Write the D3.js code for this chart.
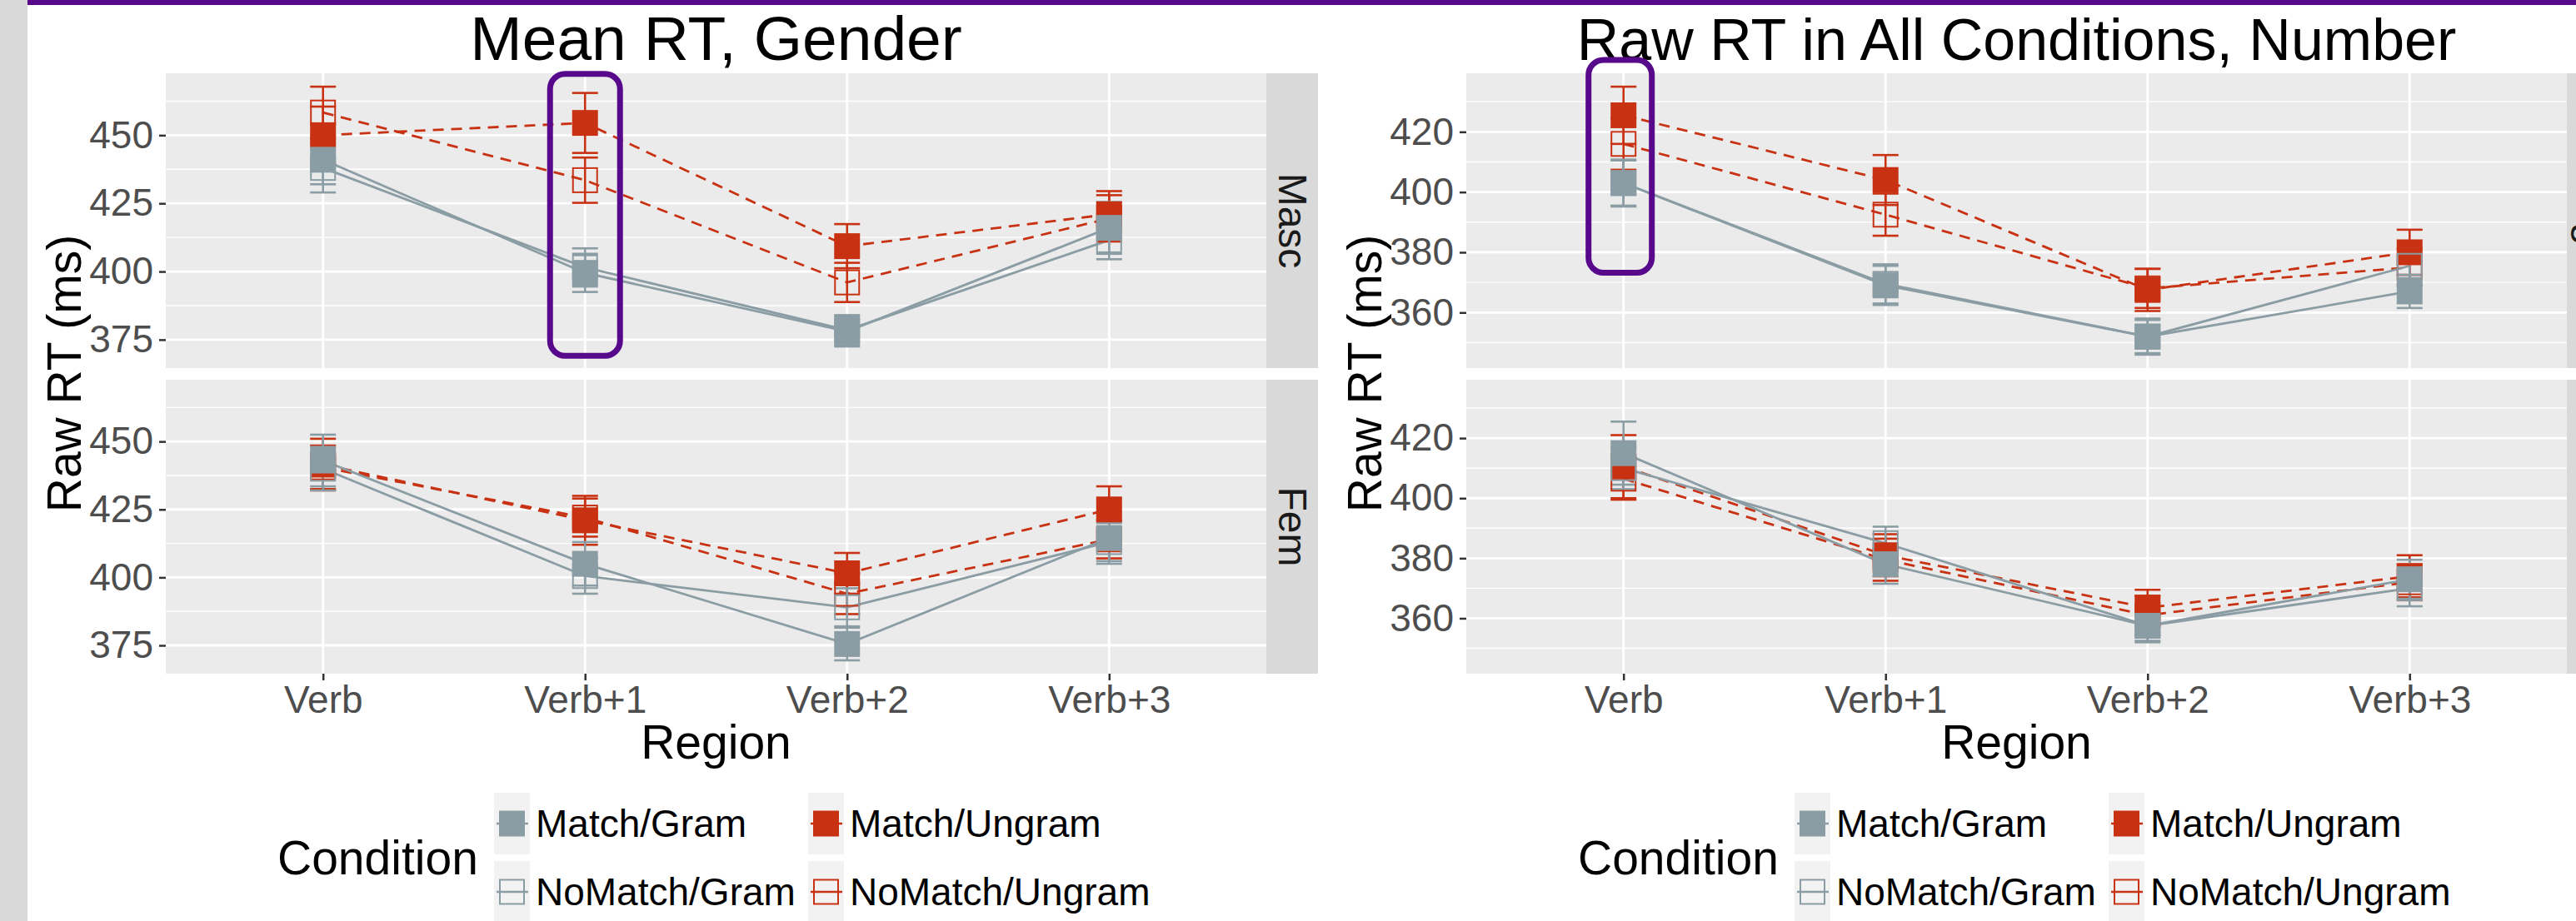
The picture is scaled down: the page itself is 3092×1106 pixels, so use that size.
<!DOCTYPE html>
<html>
<head>
<meta charset="utf-8">
<script src="https://cdn.jsdelivr.net/npm/d3@7"></script>
<style>
  body { margin: 0; background: #fff; }
  svg { display: block; font-family: "Liberation Sans", Arial, Helvetica, sans-serif; }
</style>
</head>
<body>
<div id="slide"></div>
<script>
// ---- data ----
const regions = ['Verb', 'Verb+1', 'Verb+2', 'Verb+3'];
const conditions = ['Match/Gram', 'NoMatch/Gram', 'Match/Ungram', 'NoMatch/Ungram'];
const chartTitles = ['Mean RT, Gender', 'Raw RT in All Conditions, Number'];
const genderFacets = ['Masc', 'Fem'];
const numberFacets = ['Sg', 'Pl'];
const genderTicks = [375, 400, 425, 450];
const numberTicks = [360, 380, 400, 420];

// one row per condition (same order as `conditions`), one value per region
const mascMeans = [
  [441, 399.5, 378, 416],
  [438, 401.5, 378.5, 411.5],
  [450, 454.5, 409.3, 421],
  [458.3, 433.5, 396, 419.5]
];
const mascSE = [
  [9, 7, 5.5, 9.5],
  [9, 7, 5.5, 7],
  [10.5, 11, 8.1, 8.5],
  [9.5, 8.3, 7.2, 8.5]
];
const femMeans = [
  [443, 405, 375.5, 414.5],
  [440, 400.5, 389, 413],
  [441.5, 421, 401.5, 425],
  [440.5, 422, 394, 414]
];
const femSE = [
  [9.5, 8, 6, 9.5],
  [8, 6.5, 7, 7],
  [9.5, 9, 7.5, 8.5],
  [8, 7, 7.5, 7]
];
const sgMeans = [
  [403, 369, 352, 367],
  [403, 369.5, 352, 375.5],
  [425.5, 404, 367.5, 380],
  [416, 392.5, 368, 375]
];
const sgSE = [
  [7.8, 6.5, 6, 5.5],
  [7.5, 6.5, 5.5, 6],
  [9.5, 8.3, 7, 7.5],
  [8.6, 7, 6.5, 6]
];
const plMeans = [
  [415, 378, 357.5, 373],
  [410, 385, 357.5, 370],
  [410.5, 381, 363.5, 374],
  [406.5, 379.5, 361, 372]
];
const plSE = [
  [10.5, 6.5, 5.5, 6.5],
  [7, 5.5, 5, 6],
  [10.5, 7, 6, 7],
  [7, 7, 6.5, 6]
];

const W = 3092, H = 1106;
const GRAY = '#8B9DA4', RED = '#C83213', PURPLE = '#57088B';

// markers are stacked so that the filled grey squares end up on top
const drawOrder = ['Match/Ungram', 'NoMatch/Ungram', 'NoMatch/Gram', 'Match/Gram'];

const svg = d3.select('#slide').append('svg')
    .attr('width', W)
    .attr('height', H);

// slide chrome: grey margin on the left and purple rule on top
svg.append('rect').attr('width', 33).attr('height', H).attr('fill', '#D9D9D9');
svg.append('rect').attr('x', 33).attr('width', W - 33).attr('height', 6).attr('fill', PURPLE);

class FacetPlot {

    constructor(_config, _data) {
        this.config = {
            offsetX: _config.offsetX,
            title: _config.title,
            titleSize: _config.titleSize,
            facets: _config.facets,
            ticks: _config.ticks,
            highlight: _config.highlight,
            panelLeft: 199,
            panelRight: 1520,
            stripWidth: 62,
            panelTops: [88, 456],
            panelBottoms: [442, 809]
        };
        this.data = _data;
        this.initVis();
    }

    initVis() {
        let vis = this;
        const c = vis.config;

        // flatten into one record per point
        vis.points = [];
        vis.data.forEach((facet, f) => {
            conditions.forEach((cond, k) => {
                regions.forEach((r, i) => {
                    vis.points.push({facet: f, cond: cond, k: k, region: r,
                        mean: facet.means[k][i], se: facet.se[k][i]});
                });
            });
        });

        // ggplot style: 5% expansion around the error bar range
        const lo = d3.min(vis.points, d => d.mean - d.se);
        const hi = d3.max(vis.points, d => d.mean + d.se);
        const pad = (hi - lo) * 0.05;
        vis.domain = [lo - pad, hi + pad];

        vis.xScale = d3.scalePoint()
            .domain(regions)
            .range([c.panelLeft, c.panelRight])
            .padding(0.6);

        vis.yScales = c.panelTops.map((t, f) => d3.scaleLinear()
            .domain(vis.domain)
            .range([c.panelBottoms[f], t]));

        vis.chart = svg.append('g')
            .attr('transform', `translate(${c.offsetX},0)`);

        vis.renderVis();
    }

    renderVis() {
        let vis = this;
        const c = vis.config;
        const step = c.ticks[1] - c.ticks[0];
        const minor = d3.range(c.ticks[0] - step / 2, vis.domain[1], step)
            .filter(v => v > vis.domain[0]);

        const colorOf = d => d.includes('Ungram') ? RED : GRAY;
        const filled = d => d.startsWith('Match');

        c.facets.forEach((label, f) => {
            const y = vis.yScales[f];
            const top = c.panelTops[f], bottom = c.panelBottoms[f];
            const g = vis.chart.append('g');

            g.append('rect')
                .attr('x', c.panelLeft).attr('y', top)
                .attr('width', c.panelRight - c.panelLeft).attr('height', bottom - top)
                .attr('fill', '#EBEBEB');

            g.selectAll('.minor').data(minor).join('line')
                .attr('x1', c.panelLeft).attr('x2', c.panelRight)
                .attr('y1', d => y(d)).attr('y2', d => y(d))
                .attr('stroke', '#fff').attr('stroke-width', 1.4);

            g.selectAll('.major').data(c.ticks).join('line')
                .attr('x1', c.panelLeft).attr('x2', c.panelRight)
                .attr('y1', d => y(d)).attr('y2', d => y(d))
                .attr('stroke', '#fff').attr('stroke-width', 2.8);

            g.selectAll('.vgrid').data(regions).join('line')
                .attr('x1', d => vis.xScale(d)).attr('x2', d => vis.xScale(d))
                .attr('y1', top).attr('y2', bottom)
                .attr('stroke', '#fff').attr('stroke-width', 2.8);

            // facet strip
            g.append('rect')
                .attr('x', c.panelRight).attr('y', top)
                .attr('width', c.stripWidth).attr('height', bottom - top)
                .attr('fill', '#D9D9D9');
            g.append('text')
                .attr('transform', `translate(${c.panelRight + c.stripWidth / 2},${(top + bottom) / 2}) rotate(90)`)
                .attr('text-anchor', 'middle')
                .attr('dominant-baseline', 'central')
                .attr('font-size', 48)
                .attr('fill', '#1A1A1A')
                .text(label);

            // y axis
            const yAxisG = g.append('g')
                .attr('transform', `translate(${c.panelLeft},0)`)
                .call(d3.axisLeft(y).tickValues(c.ticks).tickSize(8).tickPadding(7))
                .call(a => a.select('.domain').remove());
            yAxisG.selectAll('text').attr('font-size', 46).attr('fill', '#4D4D4D')
                .attr('font-family', null);
            yAxisG.selectAll('line').attr('stroke', '#333').attr('stroke-width', 2.5);

            const pts = vis.points.filter(d => d.facet === f)
                .sort((a, b) => drawOrder.indexOf(a.cond) - drawOrder.indexOf(b.cond));
            const series = d3.groups(pts, d => d.cond);

            // connecting lines
            const line = d3.line()
                .x(d => vis.xScale(d.region))
                .y(d => y(d.mean));
            g.selectAll('.series').data(series).join('path')
                .attr('d', d => line(d[1]))
                .attr('fill', 'none')
                .attr('stroke', d => colorOf(d[0]))
                .attr('stroke-width', 2.8)
                .attr('stroke-dasharray', d => d[0].includes('Ungram') ? '13,9' : null);

            // error bars
            const eb = g.selectAll('.eb').data(pts).join('g')
                .attr('stroke', d => colorOf(d.cond))
                .attr('stroke-width', 2.6);
            eb.append('line')
                .attr('x1', d => vis.xScale(d.region)).attr('x2', d => vis.xScale(d.region))
                .attr('y1', d => y(d.mean - d.se)).attr('y2', d => y(d.mean + d.se));
            eb.append('line')
                .attr('x1', d => vis.xScale(d.region) - 15.5).attr('x2', d => vis.xScale(d.region) + 15.5)
                .attr('y1', d => y(d.mean + d.se)).attr('y2', d => y(d.mean + d.se));
            eb.append('line')
                .attr('x1', d => vis.xScale(d.region) - 15.5).attr('x2', d => vis.xScale(d.region) + 15.5)
                .attr('y1', d => y(d.mean - d.se)).attr('y2', d => y(d.mean - d.se));

            // square markers
            g.selectAll('.pt').data(pts).join('rect')
                .attr('x', d => vis.xScale(d.region) - (filled(d.cond) ? 15.5 : 14.5))
                .attr('y', d => y(d.mean) - (filled(d.cond) ? 15.5 : 14.5))
                .attr('width', d => filled(d.cond) ? 31 : 29)
                .attr('height', d => filled(d.cond) ? 31 : 29)
                .attr('fill', d => filled(d.cond) ? colorOf(d.cond) : 'none')
                .attr('stroke', d => filled(d.cond) ? 'none' : colorOf(d.cond))
                .attr('stroke-width', 2);
        });

        // x axis under the bottom facet
        const xAxisG = vis.chart.append('g')
            .attr('transform', `translate(0,${c.panelBottoms[1]})`)
            .call(d3.axisBottom(vis.xScale).tickSize(8).tickPadding(6))
            .call(a => a.select('.domain').remove());
        xAxisG.selectAll('text').attr('font-size', 46).attr('fill', '#4D4D4D')
            .attr('font-family', null);
        xAxisG.selectAll('line').attr('stroke', '#333').attr('stroke-width', 2.5);

        const midX = (c.panelLeft + c.panelRight) / 2;

        vis.chart.append('text')
            .attr('x', midX).attr('y', 72)
            .attr('text-anchor', 'middle')
            .attr('font-size', c.titleSize)
            .text(c.title);

        vis.chart.append('text')
            .attr('x', midX).attr('y', 911)
            .attr('text-anchor', 'middle')
            .attr('font-size', 57)
            .text('Region');

        vis.chart.append('text')
            .attr('transform', `translate(97,${(c.panelTops[0] + c.panelBottoms[1]) / 2}) rotate(-90)`)
            .attr('text-anchor', 'middle')
            .attr('font-size', 57)
            .text('Raw RT (ms)');

        // legend
        vis.chart.append('text')
            .attr('x', 333).attr('y', 1050)
            .attr('font-size', 57)
            .text('Condition');

        const keyX = [593, 970], keyY = [989, 1071];
        const key = vis.chart.selectAll('.key').data(conditions).join('g')
            .attr('transform', (d, i) => `translate(${keyX[Math.floor(i / 2)]},${keyY[i % 2]})`);
        key.append('rect')
            .attr('y', -37).attr('width', 43).attr('height', 74)
            .attr('fill', '#F2F2F2');
        key.append('line')
            .attr('x1', 3).attr('x2', 41)
            .attr('stroke', d => colorOf(d)).attr('stroke-width', 2.7);
        key.append('rect')
            .attr('x', d => filled(d) ? 6 : 7).attr('y', d => filled(d) ? -15.5 : -14.5)
            .attr('width', d => filled(d) ? 31 : 29).attr('height', d => filled(d) ? 31 : 29)
            .attr('fill', d => filled(d) ? colorOf(d) : 'none')
            .attr('stroke', d => filled(d) ? 'none' : colorOf(d))
            .attr('stroke-width', 2);
        key.append('text')
            .attr('x', 50)
            .attr('dominant-baseline', 'central')
            .attr('font-size', 46)
            .text(d => d);

        // purple call-out box around one region
        const h = c.highlight;
        const y0 = vis.yScales[0];
        vis.chart.append('rect')
            .attr('x', vis.xScale(h.region) + h.shift - h.halfWidth)
            .attr('y', y0(h.top))
            .attr('width', 2 * h.halfWidth)
            .attr('height', y0(h.bottom) - y0(h.top))
            .attr('rx', 18)
            .attr('fill', 'none')
            .attr('stroke', PURPLE)
            .attr('stroke-width', 7);
    }
}

new FacetPlot({
    offsetX: 0,
    title: chartTitles[0],
    titleSize: 75,
    facets: genderFacets,
    ticks: genderTicks,
    highlight: {region: 'Verb+1', top: 472.5, bottom: 369.1, halfWidth: 42, shift: 0}
}, [{means: mascMeans, se: mascSE}, {means: femMeans, se: femSE}]);

new FacetPlot({
    offsetX: 1561,
    title: chartTitles[1],
    titleSize: 70,
    facets: numberFacets,
    ticks: numberTicks,
    highlight: {region: 'Verb', top: 443.9, bottom: 373.2, halfWidth: 38, shift: -4}
}, [{means: sgMeans, se: sgSE}, {means: plMeans, se: plSE}]);
</script>
</body>
</html>
